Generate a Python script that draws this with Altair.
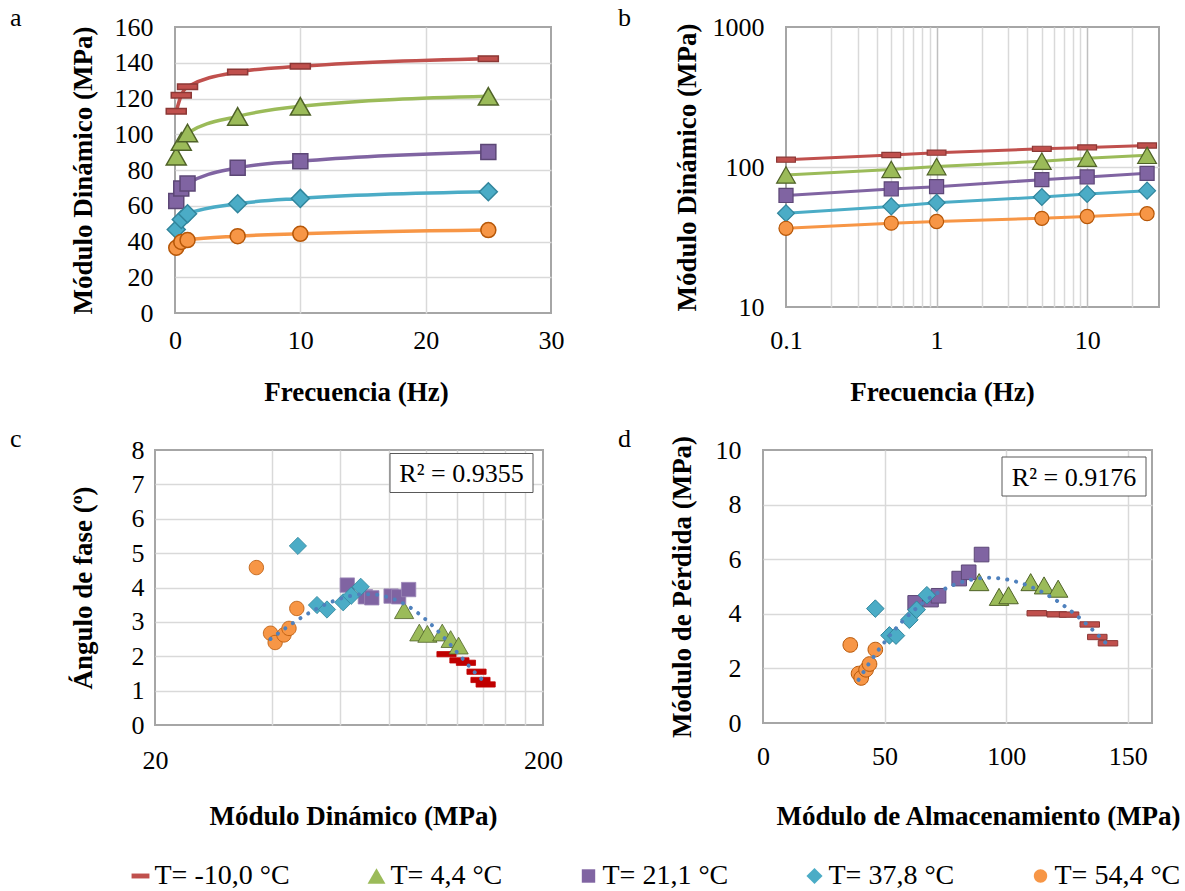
import altair as alt
import pandas as pd

FONT = "Liberation Serif"

SERIES = ["T= -10,0 °C", "T= 4,4 °C", "T= 21,1 °C", "T= 37,8 °C", "T= 54,4 °C"]
FREQ = [0.1, 0.5, 1, 5, 10, 25]

# dynamic modulus (MPa) per temperature, at FREQ
E_M10 = [112.8, 121.8, 126.6, 134.8, 138.0, 142.3]
E_P04 = [87.7, 96.0, 100.7, 110.0, 115.6, 121.2]
E_P21 = [62.6, 69.7, 72.4, 81.2, 84.9, 90.1]
E_P38 = [46.7, 52.3, 55.5, 61.1, 64.1, 67.8]
E_P54 = [36.5, 39.7, 40.8, 43.0, 44.3, 46.4]

# phase angle (deg)
D_M10 = [2.06, 1.88, 1.81, 1.55, 1.31, 1.18]
D_P04 = [3.34, 2.69, 2.65, 2.69, 2.50, 2.31]
D_P21 = [4.07, 3.73, 3.70, 3.75, 3.73, 3.94]
D_P38 = [5.21, 3.49, 3.36, 3.57, 3.76, 4.02]
D_P54 = [4.58, 2.67, 2.40, 2.62, 2.81, 3.39]

# storage modulus (MPa)
S_M10 = [112.6, 120.8, 125.9, 134.4, 137.5, 141.9]
S_P04 = [88.9, 97.1, 101.0, 110.1, 115.6, 121.4]
S_P21 = [62.6, 69.1, 72.2, 80.7, 84.6, 89.9]
S_P38 = [46.2, 52.0, 54.7, 60.2, 63.2, 67.4]
S_P54 = [35.9, 39.3, 40.4, 42.4, 43.8, 46.2]

# loss modulus (MPa)
L_M10 = [4.02, 3.98, 3.97, 3.61, 3.15, 2.92]
L_P04 = [5.16, 4.62, 4.68, 5.16, 5.04, 4.92]
L_P21 = [4.40, 4.52, 4.66, 5.29, 5.52, 6.17]
L_P38 = [4.19, 3.21, 3.20, 3.78, 4.15, 4.68]
L_P54 = [2.86, 1.81, 1.65, 1.95, 2.16, 2.69]

R2_C = "R² = 0.9355"
R2_D = "R² = 0.9176"

A_XTICKS = [0, 10, 20, 30]
A_YTICKS = [0, 20, 40, 60, 80, 100, 120, 140, 160]
B_XTICKS = [0.1, 0.2, 0.3, 0.4, 0.5, 0.6, 0.7, 0.8, 0.9, 1, 2, 3, 4, 5, 6, 7, 8, 9, 10, 20, 30]
B_YTICKS = [10, 100, 1000]
C_XTICKS = [20, 40, 60, 80, 100, 120, 140, 160, 180, 200]
C_YTICKS = [0, 1, 2, 3, 4, 5, 6, 7, 8]
D_XTICKS = [0, 50, 100, 150]
D_YTICKS = [0, 2, 4, 6, 8, 10]

FILL = ["#C0504D", "#9BBB59", "#8064A2", "#4BACC6", "#F79646"]
STROKE = ["#8C3836", "#4F6228", "#5C4776", "#31859C", "#B65708"]
FILL_C = ["#C00000", "#9BBB59", "#8064A2", "#4BACC6", "#F79646"]
STROKE_C = ["#C00000", "#4F6228", "#9C88B8", "#31859C", "#B65708"]
SHAPES = [
    "M-2,-0.55H2V0.55H-2Z",
    "M0,-1.75L2,1.75L-2,1.75Z",
    "M-1.5,-1.5H1.5V1.5H-1.5Z",
    "M-1.8,0L0,-1.8L1.8,0L0,1.8Z",
    "M-1.5,0A1.5,1.5,0,1,1,1.5,0A1.5,1.5,0,1,1,-1.5,0Z",
]
TREND = "#4F81BD"

rows = []
for s, e, d, st, lo in zip(
    SERIES,
    [E_M10, E_P04, E_P21, E_P38, E_P54],
    [D_M10, D_P04, D_P21, D_P38, D_P54],
    [S_M10, S_P04, S_P21, S_P38, S_P54],
    [L_M10, L_P04, L_P21, L_P38, L_P54],
):
    for f, ev, dv, sv, lv in zip(FREQ, e, d, st, lo):
        rows.append(dict(serie=s, freq=f, E=ev, delta=dv, Es=sv, El=lv))
df = pd.DataFrame(rows)

RES = dict(color="independent", fill="independent", shape="independent", stroke="independent")


def sc(rng):
    return alt.Scale(domain=SERIES, range=rng)


def mk_axis(title, values, lp, tp, edges, **kw):
    test = " || ".join(f"datum.value == {v}" for v in edges)
    return alt.Axis(
        title=title, values=values, labelPadding=lp, titlePadding=tp, grid=True,
        gridOpacity={"condition": {"test": test, "value": 0}, "value": 1}, **kw
    )


def label(txt, x, y):
    return alt.Chart(pd.DataFrame({"t": [txt]})).mark_text(
        font=FONT, fontSize=26, align="left", baseline="alphabetic", color="black"
    ).encode(text="t:N", x=alt.value(x), y=alt.value(y))


def anchor(x, y):
    # invisible zero-length rule that fixes the layout bounds of a panel
    return alt.Chart(pd.DataFrame({"v": [0]})).mark_rule(strokeWidth=0.5, opacity=0).encode(
        x=alt.value(x), x2=alt.value(x), y=alt.value(y), y2=alt.value(y))


def spacer(w):
    return alt.Chart(pd.DataFrame({"v": [0]})).mark_point(opacity=0, size=0).properties(
        width=w, height=1, view=alt.ViewBackground(stroke=None))


def r2box(txt, x1, x2, y1, y2):
    d = pd.DataFrame({"t": [txt]})
    box = alt.Chart(d).mark_rect(fill="white", stroke="#595959", strokeWidth=1).encode(
        x=alt.value(x1), x2=alt.value(x2), y=alt.value(y1), y2=alt.value(y2))
    tx = alt.Chart(d).mark_text(font=FONT, fontSize=26, align="center", baseline="middle",
                                color="black").encode(
        text="t:N", x=alt.value((x1 + x2) / 2), y=alt.value((y1 + y2) / 2 + 1))
    return box, tx


def markers(x, y, size, sw, fill, stroke):
    return alt.Chart(df).mark_point(filled=True, opacity=1, size=size, strokeWidth=sw).encode(
        x=x, y=y,
        shape=alt.Shape("serie:N", scale=sc(SHAPES), legend=None),
        fill=alt.Fill("serie:N", scale=sc(fill), legend=None),
        stroke=alt.Stroke("serie:N", scale=sc(stroke), legend=None),
    )


# ---------- panel a ----------
xa = alt.X("freq:Q", scale=alt.Scale(domain=[0, 30], nice=False, zero=False),
           axis=mk_axis("Frecuencia (Hz)", A_XTICKS, 14, 26, [0, 30], titleX=181))
ya = alt.Y("E:Q", scale=alt.Scale(domain=[0, 160], nice=False),
           axis=mk_axis("Módulo Dinámico (MPa)", A_YTICKS, 22, 17, [0, 160]))
line_a = alt.Chart(df).mark_line(interpolate="monotone", strokeWidth=3.5).encode(
    x=xa, y=ya, color=alt.Color("serie:N", scale=sc(FILL), legend=None))
panel_a = alt.layer(
    line_a, markers(xa, ya, 100, 1.5, FILL, STROKE), label("a", -165, -1),
    anchor(-174, -26), anchor(0, 385),
).properties(width=376, height=286)

# ---------- panel b ----------
xb = alt.X("freq:Q", scale=alt.Scale(type="log", domain=[0.1, 30], nice=False),
           axis=mk_axis("Frecuencia (Hz)", B_XTICKS, 20, 26, [0.1, 30],
                        labelExpr="datum.value == 0.1 ? '0.1' : datum.value == 1 ? '1' : datum.value == 10 ? '10' : ''",
                        gridColor={"condition": {"test": "datum.value == 1 || datum.value == 10", "value": "#bfbfbf"},
                                   "value": "#d9d9d9"},
                        titleX=156))
yb = alt.Y("E:Q", scale=alt.Scale(type="log", domain=[10, 1000], nice=False),
           axis=mk_axis("Módulo Dinámico (MPa)", B_YTICKS, 22, 11, [10, 1000], format="d"))
line_b = alt.Chart(df).mark_line(strokeWidth=3).encode(
    x=xb, y=yb, color=alt.Color("serie:N", scale=sc(FILL), legend=None))
panel_b = alt.layer(
    line_b, markers(xb, yb, 88, 1.2, FILL, STROKE), label("b", -168, -1),
).properties(width=373, height=280)

# ---------- panel c ----------
xc = alt.X("E:Q", scale=alt.Scale(type="log", domain=[20, 200], nice=False),
           axis=mk_axis("Módulo Dinámico (MPa)", C_XTICKS, 22, 30, [20, 200], format="d",
                        labelExpr="datum.value == 20 || datum.value == 200 ? datum.label : ''",
                        titleX=198))
yc = alt.Y("delta:Q", scale=alt.Scale(domain=[0, 8], nice=False),
           axis=mk_axis("Ángulo de fase (º)", C_YTICKS, 11, 34, [0, 8]))
trend_c = alt.Chart(df).transform_filter("datum.freq > 0.1").transform_regression(
    "E", "delta", method="poly", order=3).mark_line(
    color=TREND, strokeWidth=4, strokeDash=[0.1, 9], strokeCap="round").encode(x=xc, y=yc)
box_c, tx_c = r2box(R2_C, 235, 378, 3.5, 42.5)
panel_c = alt.layer(
    markers(xc, yc, 92, 0.8, FILL_C, STROKE_C), trend_c, box_c, tx_c, label("c", -145, -3.5),
    anchor(-154, -35.5), anchor(0, 410.5),
).properties(width=388, height=275)

# ---------- panel d ----------
xd = alt.X("Es:Q", scale=alt.Scale(domain=[0, 160], nice=False, zero=False),
           axis=mk_axis("Módulo de Almacenamiento (MPa)", D_XTICKS, 20, 34, [0], titleX=215))
yd = alt.Y("El:Q", scale=alt.Scale(domain=[0, 10], nice=False),
           axis=mk_axis("Módulo de Pérdida (MPa)", D_YTICKS, 22, 19, [0, 10]))
trend_d = alt.Chart(df).transform_filter("datum.freq > 0.1").transform_regression(
    "Es", "El", method="poly", order=3).mark_line(
    color=TREND, strokeWidth=4, strokeDash=[0.1, 9], strokeCap="round").encode(x=xd, y=yd)
box_d, tx_d = r2box(R2_D, 239, 383, 7, 46)
panel_d = alt.layer(
    markers(xd, yd, 95, 1.0, FILL, STROKE), trend_d, box_d, tx_d, label("d", -145, -3.5),
).properties(width=389, height=273)

# ---------- legend row ----------
LEG = alt.Legend(orient="none", legendX=-28.5, legendY=0, direction="horizontal", title=None,
                 labelFont=FONT, labelFontSize=28, labelColor="black", symbolSize=80,
                 columnPadding=72, labelOffset=0, symbolStrokeWidth=0, symbolOpacity=1,
                 padding=0, labelLimit=400)
leg_pts = alt.Chart(df).mark_point(filled=True, size=0).encode(
    fill=alt.Fill("serie:N", scale=sc(FILL), legend=LEG),
    shape=alt.Shape("serie:N", scale=sc(SHAPES), legend=LEG),
)
legend_row = alt.layer(leg_pts, anchor(0, 0)).properties(
    width=1, height=1, view=alt.ViewBackground(stroke=None))

row1 = alt.hconcat(spacer(20), panel_a, spacer(235), panel_b, spacing=0, bounds="flush").resolve_scale(**RES)
row2 = alt.hconcat(panel_c, spacer(220), panel_d, spacing=0, bounds="flush").resolve_scale(**RES)

chart = alt.vconcat(row1, row2, legend_row, spacing=0).resolve_scale(**RES).properties(
    padding=0
).configure_axis(
    labelFont=FONT, labelFontSize=26, labelColor="black", titleFont=FONT, titleFontSize=27,
    titleFontWeight="bold", titleColor="black", domain=False, ticks=False,
    gridColor="#d9d9d9", gridWidth=1.5, labelFlush=False, labelOverlap=False,
).configure_view(stroke="#a6a6a6", strokeWidth=2)

chart.save("out.html", embed_options={"renderer": "svg", "actions": False})
